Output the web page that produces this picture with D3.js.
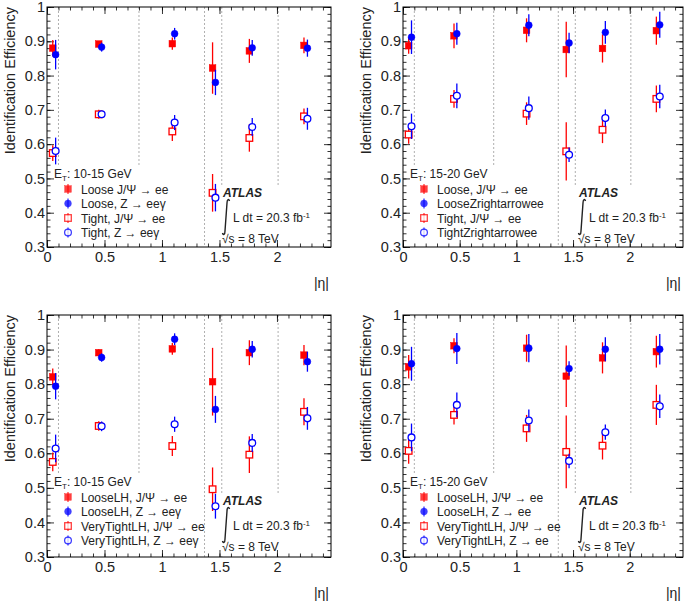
<!DOCTYPE html>
<html><head><meta charset="utf-8">
<script src="https://cdn.jsdelivr.net/npm/d3@7"></script>
<style>body{margin:0;background:#fff}svg{font-family:"Liberation Sans",Arial,sans-serif}</style>
</head><body><svg id="c" width="685" height="601"></svg>
<script>
// ---------------- data ----------------
const etaBinEdges = [0.1, 0.8, 1.37, 1.52, 2.01];
const etaJpsi = [0.05, 0.45, 1.09, 1.44, 1.76, 2.235];
const etaZ = [0.075, 0.475, 1.11, 1.465, 1.785, 2.265];
const xTickValues = [0, 0.5, 1, 1.5, 2];
const xTickLabels = ["0", "0.5", "1", "1.5", "2"];
const yTickValues = [0.3, 0.4, 0.5, 0.6, 0.7, 0.8, 0.9, 1];
const yTickLabels = ["0.3", "0.4", "0.5", "0.6", "0.7", "0.8", "0.9", "1"];
const etRanges = ["10-15 GeV", "15-20 GeV", "10-15 GeV", "15-20 GeV"];
const legend1 = ["Loose J/\u03A8  \u2192 ee", "Loose, Z \u2192 ee\u03B3", "Tight, J/\u03A8  \u2192 ee", "Tight, Z \u2192 ee\u03B3"];
const legend2 = ["Loose, J/\u03A8  \u2192 ee", "LooseZrightarrowee", "Tight, J/\u03A8  \u2192 ee", "TightZrightarrowee"];
const legend3 = ["LooseLH, J/\u03A8  \u2192 ee", "LooseLH, Z \u2192 ee\u03B3", "VeryTightLH, J/\u03A8  \u2192 ee", "VeryTightLH, Z \u2192 ee\u03B3"];
const legend4 = ["LooseLH, J/\u03A8  \u2192 ee", "LooseLH, Z \u2192 ee", "VeryTightLH, J/\u03A8  \u2192 ee", "VeryTightLH, Z \u2192 ee"];

// panel 1 (E_T 10-15, cut-based)
const p1LooseJ = [0.880, 0.892, 0.893, 0.822, 0.872, 0.888];
const p1LooseJErr = [0.024, 0.009, 0.018, 0.075, 0.035, 0.023];
const p1LooseZ = [0.861, 0.883, 0.922, 0.780, 0.881, 0.880];
const p1LooseZErr = [0.043, 0.013, 0.017, 0.037, 0.023, 0.025];
const p1TightJ = [0.574, 0.687, 0.637, 0.458, 0.618, 0.681];
const p1TightJErr = [0.023, 0.013, 0.028, 0.055, 0.040, 0.023];
const p1TightZ = [0.580, 0.687, 0.663, 0.444, 0.650, 0.674];
const p1TightZErr = [0.039, 0.010, 0.022, 0.040, 0.026, 0.032];
// panel 2 (E_T 15-20, cut-based)
const p2LooseJ = [0.887, 0.916, 0.932, 0.876, 0.879, 0.931];
const p2LooseJErr = [0.023, 0.036, 0.035, 0.081, 0.041, 0.041];
const p2LooseZ = [0.912, 0.922, 0.947, 0.895, 0.926, 0.948];
const p2LooseZErr = [0.049, 0.032, 0.032, 0.030, 0.033, 0.038];
const p2TightJ = [0.628, 0.732, 0.689, 0.579, 0.642, 0.732];
const p2TightJErr = [0.027, 0.026, 0.033, 0.085, 0.039, 0.039];
const p2TightZ = [0.652, 0.741, 0.705, 0.569, 0.676, 0.739];
const p2TightZErr = [0.037, 0.036, 0.034, 0.021, 0.025, 0.034];
// panel 3 (E_T 10-15, likelihood)
const p3LooseJ = [0.821, 0.891, 0.902, 0.807, 0.891, 0.884];
const p3LooseJErr = [0.024, 0.010, 0.017, 0.098, 0.036, 0.029];
const p3LooseZ = [0.794, 0.877, 0.930, 0.727, 0.901, 0.865];
const p3LooseZErr = [0.038, 0.012, 0.017, 0.039, 0.024, 0.029];
const p3TightJ = [0.575, 0.679, 0.621, 0.496, 0.596, 0.720];
const p3TightJErr = [0.027, 0.014, 0.029, 0.063, 0.053, 0.039];
const p3TightZ = [0.614, 0.678, 0.684, 0.447, 0.630, 0.701];
const p3TightZErr = [0.040, 0.014, 0.022, 0.036, 0.026, 0.033];
// panel 4 (E_T 15-20, likelihood)
const p4LooseJ = [0.850, 0.911, 0.904, 0.823, 0.876, 0.894];
const p4LooseJErr = [0.034, 0.022, 0.039, 0.089, 0.045, 0.046];
const p4LooseZ = [0.859, 0.903, 0.904, 0.845, 0.901, 0.901];
const p4LooseZErr = [0.049, 0.045, 0.041, 0.021, 0.035, 0.044];
const p4TightJ = [0.607, 0.711, 0.672, 0.604, 0.622, 0.740];
const p4TightJErr = [0.037, 0.028, 0.039, 0.105, 0.040, 0.058];
const p4TightZ = [0.646, 0.740, 0.695, 0.578, 0.661, 0.736];
const p4TightZErr = [0.040, 0.036, 0.032, 0.021, 0.022, 0.034];

// ---------------- drawing ----------------
const RED = "#ff0000", BLUE = "#0000ff", TXT = "#222";
const svg = d3.select("#c");

const panelDefs = [
  {x0: 47, x1: 331, y0: 7, y1: 247, et: etRanges[0], leg: legend1,
   s: [[p1LooseJ, p1LooseJErr], [p1LooseZ, p1LooseZErr], [p1TightJ, p1TightJErr], [p1TightZ, p1TightZErr]]},
  {x0: 403, x1: 683, y0: 7, y1: 247, et: etRanges[1], leg: legend2,
   s: [[p2LooseJ, p2LooseJErr], [p2LooseZ, p2LooseZErr], [p2TightJ, p2TightJErr], [p2TightZ, p2TightZErr]]},
  {x0: 47, x1: 331, y0: 315, y1: 557, et: etRanges[2], leg: legend3,
   s: [[p3LooseJ, p3LooseJErr], [p3LooseZ, p3LooseZErr], [p3TightJ, p3TightJErr], [p3TightZ, p3TightZErr]]},
  {x0: 403, x1: 683, y0: 315, y1: 557, et: etRanges[3], leg: legend4,
   s: [[p4LooseJ, p4LooseJErr], [p4LooseZ, p4LooseZErr], [p4TightJ, p4TightJErr], [p4TightZ, p4TightZErr]]}
];

const styles = [
  {col: RED, shape: "square", open: false, eta: etaJpsi},
  {col: BLUE, shape: "circle", open: false, eta: etaZ},
  {col: RED, shape: "square", open: true, eta: etaJpsi},
  {col: BLUE, shape: "circle", open: true, eta: etaZ}
];

function marker(g, cx, cy, st, op) {
  if (st.shape === "square") {
    g.append("rect").attr("x", cx - 3.3).attr("y", cy - 3.3).attr("width", 6.6).attr("height", 6.6)
      .attr("fill", st.open ? "#fff" : st.col).attr("stroke", st.col).attr("stroke-width", st.open ? 1.3 : 0.5)
      .attr("opacity", op);
  } else {
    g.append("circle").attr("cx", cx).attr("cy", cy).attr("r", 3.4)
      .attr("fill", st.open ? "#fff" : st.col).attr("stroke", st.col).attr("stroke-width", st.open ? 1.3 : 0.5)
      .attr("opacity", op);
  }
}

panelDefs.forEach(p => {
  const g = svg.append("g");
  const x = d3.scaleLinear().domain([0, 2.47]).range([p.x0, p.x1]);
  const y = d3.scaleLinear().domain([0.3, 1]).range([p.y1, p.y0]);

  // dotted bin boundaries
  etaBinEdges.forEach(e => {
    g.append("line").attr("x1", x(e)).attr("x2", x(e)).attr("y1", p.y0).attr("y2", p.y1)
      .attr("stroke", "#9a9a9a").attr("stroke-width", 0.8).attr("stroke-dasharray", "2,2");
  });
  // legend and label backgrounds
  g.append("rect").attr("x", p.x0 + 1).attr("y", p.y0 + 160).attr("width", 150).attr("height", p.y1 - p.y0 - 161).attr("fill", "#fff");
  g.append("rect").attr("x", p.x0 + 168).attr("y", p.y0 + 180).attr("width", 110).attr("height", p.y1 - p.y0 - 181).attr("fill", "#fff");

  // axes
  const minorX = d3.range(0, 2.47, 0.1);
  const minorY = d3.range(0.3, 1.0001, 0.02);
  g.append("g").attr("transform", `translate(0,${p.y1})`)
    .call(d3.axisBottom(x).tickValues(xTickValues).tickFormat((d, i) => xTickLabels[i]).tickSize(-7).tickPadding(5));
  g.append("g").attr("transform", `translate(0,${p.y1})`)
    .call(d3.axisBottom(x).tickValues(minorX).tickFormat("").tickSize(-3.5));
  g.append("g").attr("transform", `translate(0,${p.y0})`)
    .call(d3.axisTop(x).tickValues(xTickValues).tickFormat("").tickSize(-7));
  g.append("g").attr("transform", `translate(0,${p.y0})`)
    .call(d3.axisTop(x).tickValues(minorX).tickFormat("").tickSize(-3.5));
  g.append("g").attr("transform", `translate(${p.x0},0)`)
    .call(d3.axisLeft(y).tickValues(yTickValues).tickFormat((d, i) => yTickLabels[i]).tickSize(-7).tickPadding(2));
  g.append("g").attr("transform", `translate(${p.x0},0)`)
    .call(d3.axisLeft(y).tickValues(minorY).tickFormat("").tickSize(-3.5));
  g.append("g").attr("transform", `translate(${p.x1},0)`)
    .call(d3.axisRight(y).tickValues(yTickValues).tickFormat("").tickSize(-7));
  g.append("g").attr("transform", `translate(${p.x1},0)`)
    .call(d3.axisRight(y).tickValues(minorY).tickFormat("").tickSize(-3.5));
  g.selectAll(".domain").remove();
  g.selectAll(".tick line").attr("stroke", "#000").attr("stroke-width", 0.8);
  g.selectAll(".tick text").attr("font-size", 14.5).attr("fill", TXT).attr("font-family", "Liberation Sans, Arial, sans-serif");

  g.append("rect").attr("x", p.x0).attr("y", p.y0).attr("width", p.x1 - p.x0).attr("height", p.y1 - p.y0)
    .attr("fill", "none").attr("stroke", "#000").attr("stroke-width", 1);

  // titles
  g.append("text").attr("transform", `translate(${p.x0 - 32},${p.y0}) rotate(-90)`)
    .attr("text-anchor", "end").attr("font-size", 14.5).attr("fill", TXT).text("Identification Efficiency");
  g.append("text").attr("x", p.x1 - 2).attr("y", p.y1 + 41).attr("text-anchor", "end")
    .attr("font-size", 14).attr("fill", TXT).text("|\u03B7|");

  // data
  p.s.forEach((ser, si) => {
    const st = styles[si];
    const vals = ser[0], errs = ser[1];
    vals.forEach((v, i) => {
      const cx = x(st.eta[i]);
      g.append("line").attr("x1", cx).attr("x2", cx).attr("y1", y(v - errs[i])).attr("y2", y(v + errs[i]))
        .attr("stroke", st.col).attr("stroke-width", 1.3);
    });
    vals.forEach((v, i) => marker(g, x(st.eta[i]), y(v), st, 1));
  });

  // legend
  const hdr = g.append("text").attr("x", p.x0 + 7).attr("y", p.y0 + 171).attr("font-size", 12).attr("fill", TXT);
  hdr.append("tspan").text("E");
  hdr.append("tspan").attr("font-size", 8).attr("dy", 3).text("T");
  hdr.append("tspan").attr("dy", -3).text(": " + p.et);
  p.leg.forEach((lab, i) => {
    const ly = p.y0 + 182 + i * 14.5;
    const st = styles[i];
    const lx = p.x0 + 21;
    g.append("line").attr("x1", lx).attr("x2", lx).attr("y1", ly - 5).attr("y2", ly + 5)
      .attr("stroke", st.col).attr("stroke-width", 1.3).attr("opacity", 0.75);
    marker(g, lx, ly, st, 0.75);
    g.append("text").attr("x", p.x0 + 34).attr("y", ly + 4.5).attr("font-size", 12).attr("fill", TXT).text(lab);
  });

  // ATLAS label
  g.append("text").attr("x", p.x0 + 176).attr("y", p.y0 + 190).attr("font-size", 12)
    .attr("font-weight", "bold").attr("font-style", "italic").attr("fill", TXT).text("ATLAS");
  const ix = p.x0 + 179, it = p.y0 + 192, ib = p.y0 + 228;
  g.append("path")
    .attr("d", `M${ix + 3.5},${it + 2} C${ix + 3},${it - 0.5} ${ix + 1},${it} ${ix + 1},${it + 4} L${ix - 1},${ib - 4} C${ix - 1},${ib} ${ix - 3},${ib + 0.5} ${ix - 3.5},${ib - 2}`)
    .attr("fill", "none").attr("stroke", TXT).attr("stroke-width", 1.4);
  const lum = g.append("text").attr("x", p.x0 + 186).attr("y", p.y0 + 215).attr("font-size", 12).attr("fill", TXT);
  lum.append("tspan").text("L dt = 20.3 fb");
  lum.append("tspan").attr("font-size", 8).attr("dy", -4).text("-1");
  g.append("text").attr("x", p.x0 + 175).attr("y", p.y0 + 236).attr("font-size", 12).attr("fill", TXT).text("\u221As = 8 TeV");
});
</script></body></html>
